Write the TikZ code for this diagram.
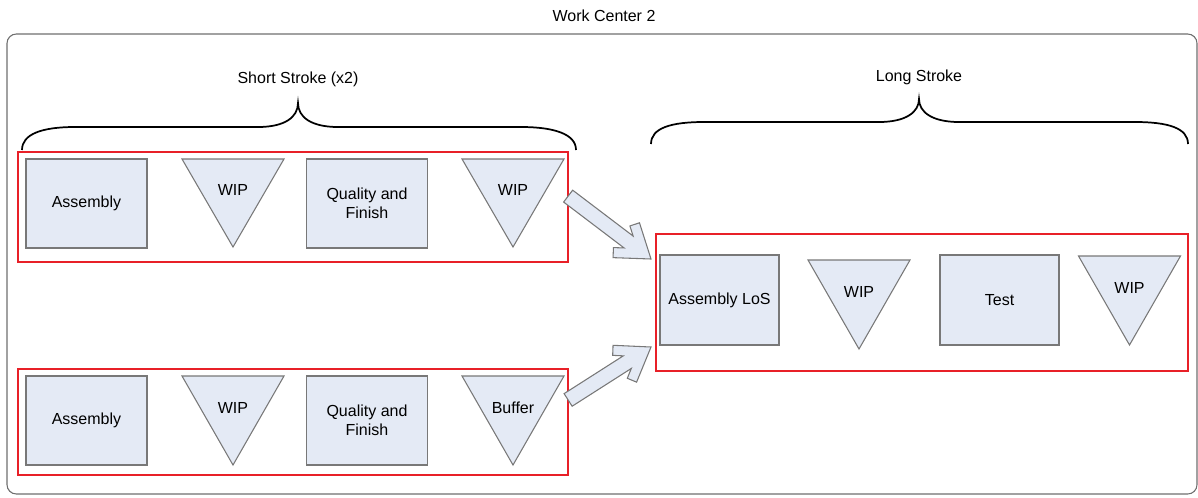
\documentclass[tikz,border=0pt]{standalone}
\usepackage{fontspec}
\setmainfont{Liberation Sans}
\usetikzlibrary{calc}
\definecolor{boxfill}{RGB}{228,234,245}
\definecolor{boxline}{RGB}{120,120,120}
\definecolor{redline}{RGB}{232,32,40}
\definecolor{frameline}{RGB}{110,110,110}
\tikzset{
  txt/.style={font=\fontsize{12}{14.25}\selectfont, inner sep=0pt, align=center},
  procbox/.style={txt, draw=boxline, fill=boxfill, line width=0.8pt,
    minimum width=0.75pt*121, minimum height=0.75pt*89},
  tribox/.style={draw=boxline, fill=boxfill, line width=0.8pt, line join=miter},
  redframe/.style={draw=redline, line width=1.6pt, inner sep=0pt},
  outerframe/.style={draw=frameline, line width=0.8pt, rounded corners=7pt},
  bracestyle/.style={draw=black, line width=1.3pt},
  barrow/.style={draw=boxline, fill=boxfill, line width=0.8pt, line join=miter},
}
% triangle (WIP / buffer): name, centre x, top y, height, text
\newcommand\wipnode[5]{%
  \filldraw[tribox] (#2-51,#3) -- (#2+51,#3) -- (#2,#3+#4) -- cycle;
  \node[txt] (#1) at (#2,#3+#4/2) {\raisebox{5.5pt}[0pt][0pt]{#5}};
}
% chevron block arrow from coordinate #1 to coordinate #2
\newcommand\blockarrow[2]{%
  \filldraw[barrow] let \p1=($(#2)-(#1)$), \n1={atan2(\y1,\x1)}, \n2={veclen(\x1,\y1)} in
    {[shift={(#2)}, rotate=\n1]
      (0pt,0pt) -- (-23.3pt,16.4pt) -- (-27.6pt,10.2pt) -- (-21.1pt,5.6pt)
      -- (-\n2,5.6pt) -- (-\n2,-5.6pt) -- (-21.1pt,-5.6pt) -- (-27.6pt,-10.2pt)
      -- (-23.3pt,-16.4pt) -- cycle};
}
\begin{document}
\begin{tikzpicture}[x=0.75pt, y=-0.75pt]
\useasboundingbox (0,0) rectangle (1198,497);

% title and outer frame
\node[txt] (title) at (604,16) {Work Center 2};
\draw[outerframe] (7,34) rectangle (1197,494);

% group labels and braces
\node[txt] (shortlbl) at (298,79) {Short Stroke (x2)};
\node[txt] (longlbl) at (919,77) {Long Stroke};
\draw[bracestyle] (22,150) .. controls (22,134) and (42,127) .. (75,127) -- (258,127)
  .. controls (285,127) and (298,117) .. (298,103)
  .. controls (298,117) and (311,127) .. (338,127) -- (521,127)
  .. controls (554,127) and (576,134) .. (576,150);
\draw[bracestyle] (651,144) .. controls (651,128) and (671,122) .. (704,122) -- (879,122)
  .. controls (906,122) and (919,112) .. (919,99)
  .. controls (919,112) and (932,122) .. (959,122) -- (1135,122)
  .. controls (1168,122) and (1188,128) .. (1188,144);

% red group frames
\node[redframe, minimum width=0.75pt*550, minimum height=0.75pt*110] (grpA) at (293,207) {};
\node[redframe, minimum width=0.75pt*550, minimum height=0.75pt*106] (grpB) at (293,422) {};
\node[redframe, minimum width=0.75pt*532, minimum height=0.75pt*137] (grpC) at (922,302.5) {};

% short stroke line 1
\node[procbox] (asmA) at (86.5,203.5) {Assembly};
\wipnode{wipA1}{233}{159}{88}{WIP}
\node[procbox] (qfA) at (367,203.5) {Quality and\\Finish};
\wipnode{wipA2}{513}{159}{88}{WIP}

% short stroke line 2
\node[procbox] (asmB) at (86.5,420.5) {Assembly};
\wipnode{wipB1}{233}{376}{89}{WIP}
\node[procbox] (qfB) at (367,420.5) {Quality and\\Finish};
\wipnode{bufB}{513}{376}{89}{Buffer}

% long stroke line
\node[procbox, minimum width=0.75pt*119, minimum height=0.75pt*90] (asmLoS) at (719.5,300) {Assembly LoS};
\wipnode{wipC1}{859}{260}{89}{WIP}
\node[procbox, minimum width=0.75pt*119, minimum height=0.75pt*90] (test) at (999.5,300) {Test};
\wipnode{wipC2}{1129.5}{256}{89}{WIP}

% block arrows from the short stroke lines to the long stroke line
\coordinate (a1s) at (568,196);
\coordinate (a1t) at (651,259);
\coordinate (a2s) at (568,400);
\coordinate (a2t) at (651,347);
\blockarrow{a1s}{a1t}
\blockarrow{a2s}{a2t}
\end{tikzpicture}
\end{document}
